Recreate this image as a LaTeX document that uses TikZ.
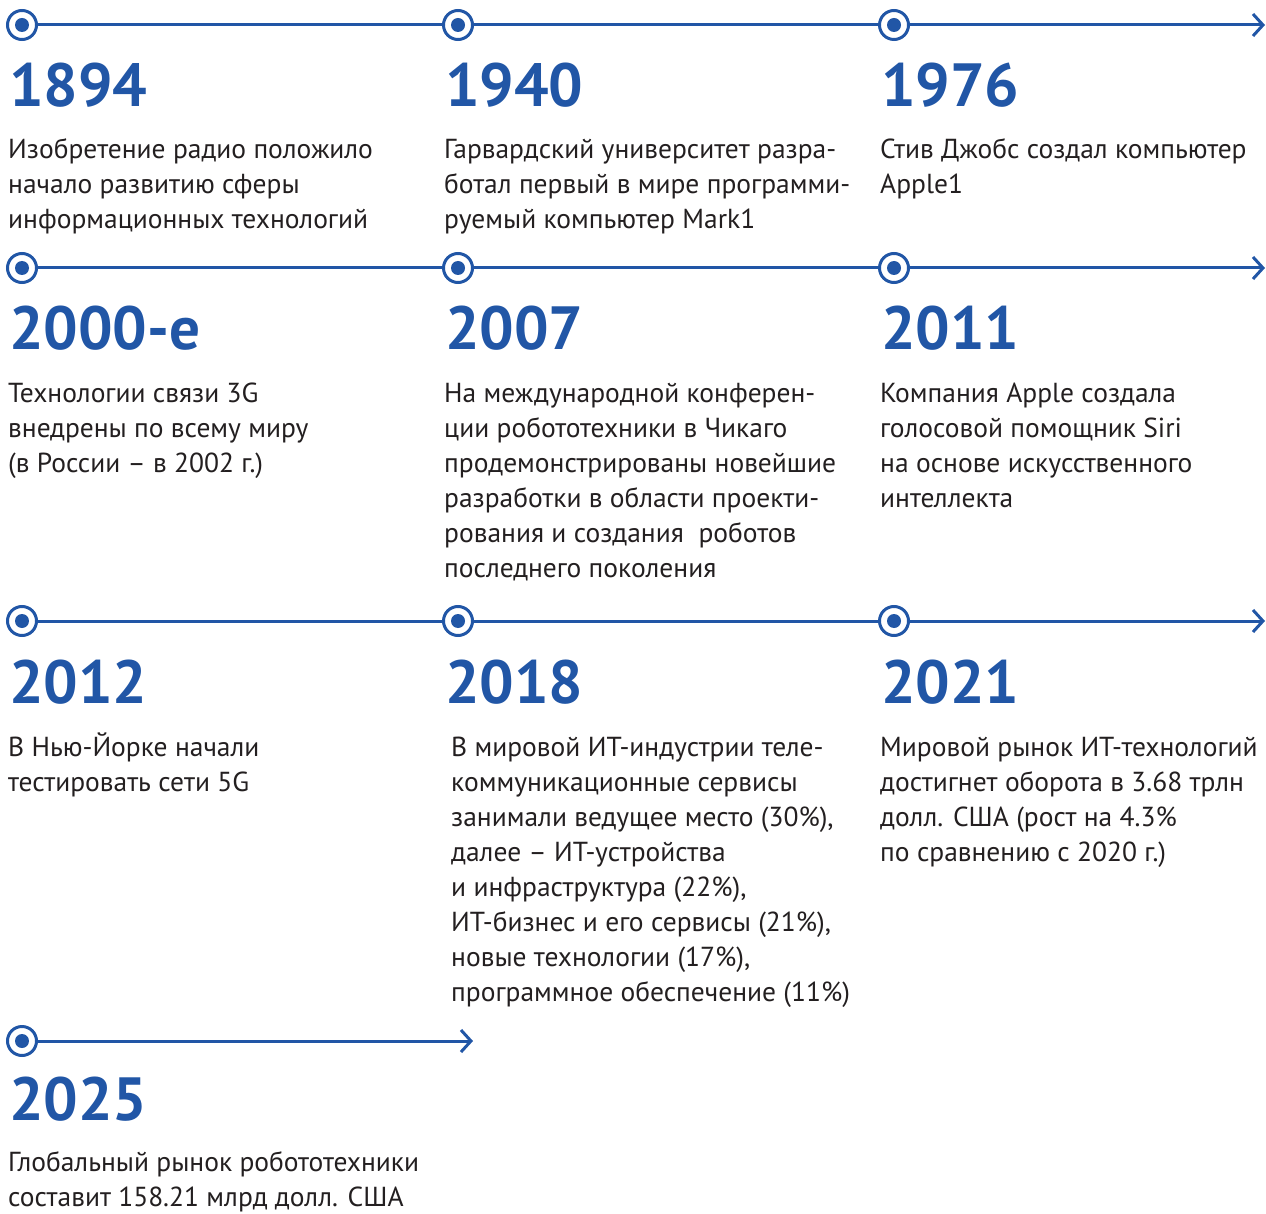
\documentclass[tikz,border=0pt]{standalone}
\usepackage{fontspec}
\setmainfont{PT Sans}
\usepackage{xcolor}
\usetikzlibrary{positioning,arrows.meta}

\definecolor{tlblue}{RGB}{33,86,166}
\definecolor{tltext}{RGB}{35,31,32}

\tikzset{
  dotnode/.style={circle, draw=tlblue, line width=3pt, fill=white,
    minimum size=29pt, inner sep=0pt,
    path picture={\fill[tlblue] (path picture bounding box.center) circle (7pt);}},
  yearlbl/.style={anchor=base west, inner sep=0pt, text=tlblue,
    font=\bfseries\fontsize{61}{61}\selectfont},
  % placed at the baseline of the last line
  desc/.style={anchor=base west, inner sep=0pt, align=left, text=tltext,
    font=\fontsize{27.5}{35}\selectfont},
  tline/.style={draw=tlblue, line width=3pt},
  tarrow/.style={tline, -{Straight Barb[length=10pt,width=22pt,line width=3pt]}}
}

\begin{document}
\begin{tikzpicture}[x=1pt,y=-1pt]
\useasboundingbox (0,0) rectangle (1266,1214);

% row 1
\coordinate (e1) at (1265,25);
\draw[tarrow] (22,25) -- (e1);
\node[dotnode] (c11) at (22,25) {};
\node[dotnode] (c12) at (458,25) {};
\node[dotnode] (c13) at (894,25) {};
\node[yearlbl] (y11) at (9,107) {1894};
\node[yearlbl] (y12) at (445,107) {1940};
\node[yearlbl] (y13) at (881,107) {1976};
\node[desc] (d11) at (8,229) {Изобретение радио положило\\начало развитию сферы\\информационных технологий};
\node[desc] (d12) at (444,229) {Гарвардский университет разра-\\ботал первый в мире программи-\\руемый компьютер Mark1};
\node[desc] (d13) at (880,194) {Стив Джобс создал компьютер\\Apple1};

% row 2
\coordinate (e2) at (1265,268);
\draw[tarrow] (22,268) -- (e2);
\node[dotnode] (c21) at (22,268) {};
\node[dotnode] (c22) at (458,268) {};
\node[dotnode] (c23) at (894,268) {};
\node[yearlbl] (y21) at (9,350) {2000-е};
\node[yearlbl] (y22) at (445,350) {2007};
\node[yearlbl] (y23) at (881,350) {2011};
\node[desc] (d21) at (8,472) {Технологии связи 3G\\внедрены по всему миру\\(в России – в 2002 г.)};
\node[desc] (d22) at (444,577) {На международной конферен-\\ции робототехники в Чикаго\\продемонстрированы новейшие\\разработки в области проекти-\\рования и создания~ роботов\\последнего поколения};
\node[desc] (d23) at (880,507) {Компания Apple создала\\голосовой помощник Siri\\на основе искусственного\\интеллекта};

% row 3
\coordinate (e3) at (1265,621);
\draw[tarrow] (22,621) -- (e3);
\node[dotnode] (c31) at (22,621) {};
\node[dotnode] (c32) at (458,621) {};
\node[dotnode] (c33) at (894,621) {};
\node[yearlbl] (y31) at (9,703) {2012};
\node[yearlbl] (y32) at (445,703) {2018};
\node[yearlbl] (y33) at (881,703) {2021};
\node[desc] (d31) at (8,791) {В Нью-Йорке начали\\тестировать сети 5G};
\node[desc] (d32) at (451,1001) {В мировой ИТ-индустрии теле-\\коммуникационные сервисы\\занимали ведущее место (30\%),\\далее – ИТ-устройства\\и инфраструктура (22\%),\\ИТ-бизнес и его сервисы (21\%),\\новые технологии (17\%),\\программное обеспечение (11\%)};
\node[desc] (d33) at (880,861) {Мировой рынок ИТ-технологий\\достигнет оборота в 3.68 трлн\\долл. США (рост на 4.3\%\\по сравнению с 2020 г.)};

% row 4
\coordinate (e4) at (473,1041);
\draw[tarrow] (22,1041) -- (e4);
\node[dotnode] (c41) at (22,1041) {};
\node[yearlbl] (y41) at (9,1120) {2025};
\node[desc] (d41) at (8,1206) {Глобальный рынок робототехники\\составит 158.21 млрд долл. США};
\end{tikzpicture}
\end{document}
